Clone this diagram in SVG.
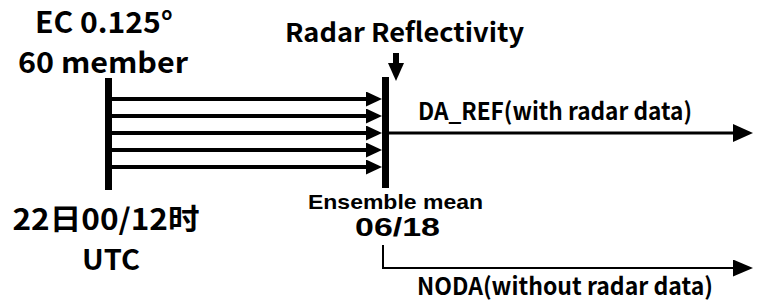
<svg xmlns="http://www.w3.org/2000/svg" width="765" height="305" viewBox="0 0 765 305">
<style>
  text { font-family: "Noto Sans CJK SC", "Noto Sans", sans-serif; font-weight: bold; fill: #000; }
  .tight { font-family: "Liberation Sans", Arial, sans-serif; }
  .bar { stroke: #000; stroke-width: 7; }
  .conn { stroke: #000; fill: none; }
</style>
<defs>
  <marker id="headA" markerUnits="userSpaceOnUse" viewBox="0 -7.5 16 15" markerWidth="16" markerHeight="15" refX="0" refY="0" orient="auto">
    <path d="M0,-7.5 L16,0 L0,7.5 z" fill="#000"/>
  </marker>
  <marker id="headB" markerUnits="userSpaceOnUse" viewBox="0 -9 20 18" markerWidth="20" markerHeight="18" refX="0" refY="0" orient="auto">
    <path d="M0,-9 L20,0 L0,9 z" fill="#000"/>
  </marker>
  <marker id="headC" markerUnits="userSpaceOnUse" viewBox="0 -8.5 20 17" markerWidth="20" markerHeight="17" refX="0" refY="0" orient="auto">
    <path d="M0,-8.5 L20,0 L0,8.5 z" fill="#000"/>
  </marker>
  <marker id="headD" markerUnits="userSpaceOnUse" viewBox="0 -8 18 16" markerWidth="18" markerHeight="16" refX="0" refY="0" orient="auto">
    <path d="M0,-8 L18,0 L0,8 z" fill="#000"/>
  </marker>
</defs>

<g id="ec-source">
  <text x="104" y="33" font-size="29" text-anchor="middle" textLength="138" lengthAdjust="spacingAndGlyphs">EC 0.125°</text>
  <text x="103" y="73" font-size="29" text-anchor="middle" textLength="170" lengthAdjust="spacingAndGlyphs">60 member</text>
  <line class="bar" x1="108.5" y1="78" x2="108.5" y2="190"/>
  <text x="106" y="230" font-size="29" text-anchor="middle" textLength="187" lengthAdjust="spacingAndGlyphs">22日00/12时</text>
  <text x="111" y="270" font-size="28" text-anchor="middle" textLength="58" lengthAdjust="spacingAndGlyphs">UTC</text>
</g>

<g id="radar-reflectivity">
  <text x="404.5" y="42" font-size="26" text-anchor="middle" textLength="239" lengthAdjust="spacingAndGlyphs">Radar Reflectivity</text>
</g>

<g id="ensemble-mean">
  <line class="bar" x1="385.5" y1="77" x2="385.5" y2="188"/>
  <text class="tight" x="395.5" y="209" font-size="21" text-anchor="middle" textLength="175" lengthAdjust="spacingAndGlyphs">Ensemble mean</text>
  <text class="tight" x="397.5" y="236" font-size="26" text-anchor="middle" textLength="85" lengthAdjust="spacingAndGlyphs">06/18</text>
</g>

<g id="da-ref">
  <text x="418" y="120" font-size="24" textLength="274" lengthAdjust="spacingAndGlyphs">DA_REF(with radar data)</text>
</g>

<g id="noda">
  <text x="417" y="295" font-size="24" textLength="296" lengthAdjust="spacingAndGlyphs">NODA(without radar data)</text>
</g>

<g id="connectors">
  <line class="conn" stroke-width="4" x1="112" y1="99" x2="366" y2="99" marker-end="url(#headA)"/>
  <line class="conn" stroke-width="4" x1="112" y1="116" x2="366" y2="116" marker-end="url(#headA)"/>
  <line class="conn" stroke-width="4" x1="112" y1="133" x2="366" y2="133" marker-end="url(#headA)"/>
  <line class="conn" stroke-width="4" x1="112" y1="150" x2="366" y2="150" marker-end="url(#headA)"/>
  <line class="conn" stroke-width="4" x1="112" y1="167" x2="366" y2="167" marker-end="url(#headA)"/>
  <line class="conn" stroke-width="3" x1="389" y1="133" x2="733" y2="133" marker-end="url(#headB)"/>
  <path class="conn" stroke-width="2" d="M383,245 V268 H733" marker-end="url(#headC)"/>
  <line class="conn" stroke-width="6" x1="396" y1="53" x2="396" y2="63" marker-end="url(#headD)"/>
</g>
</svg>
